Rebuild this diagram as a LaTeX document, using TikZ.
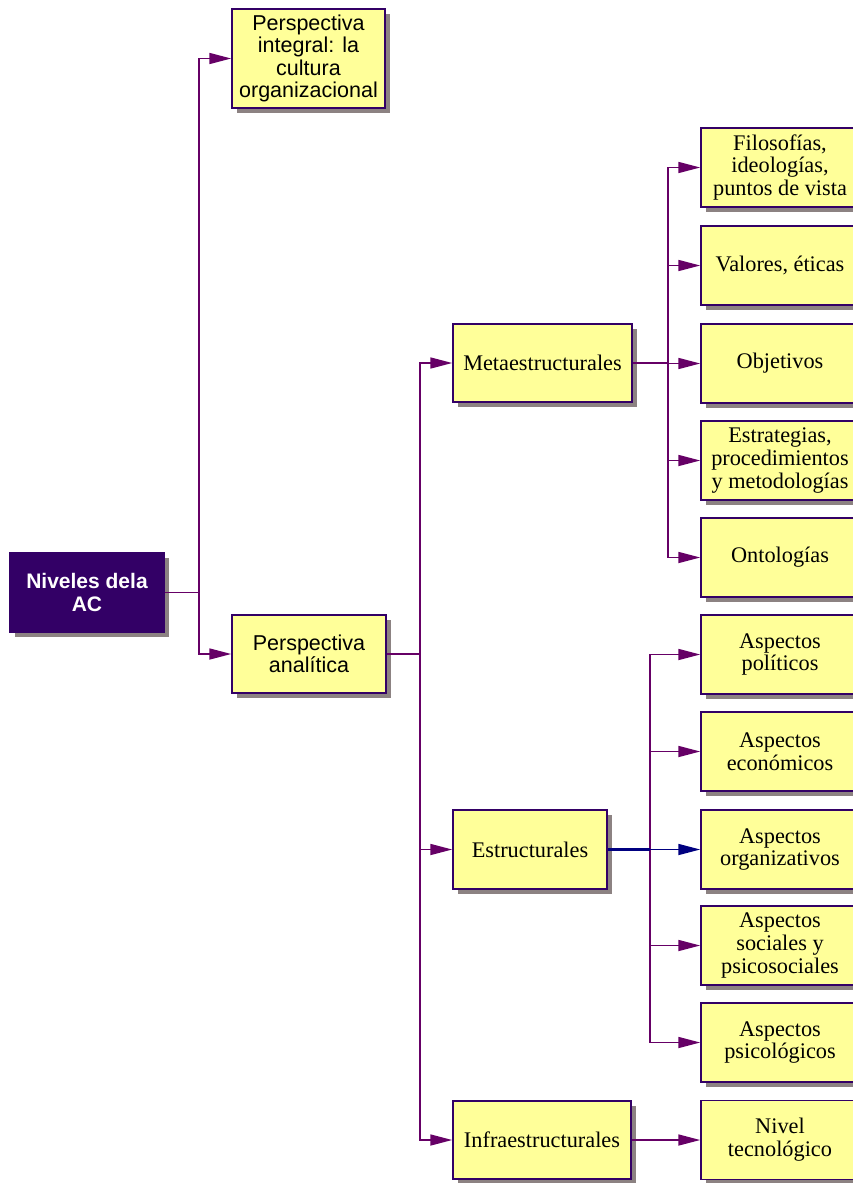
\documentclass[tikz,border=0pt]{standalone}
\usepackage{fontspec}
\setmainfont{Liberation Serif}
\setsansfont{Liberation Sans}
\usetikzlibrary{arrows.meta,shadows}
\definecolor{amarillo}{HTML}{FFFF99}
\definecolor{borde}{HTML}{330066}
\definecolor{linea}{HTML}{660066}
\definecolor{sombra}{HTML}{8C8282}
\definecolor{azul}{HTML}{000080}
\begin{document}
\begin{tikzpicture}[x=1pt,y=-1pt,
 caja/.style={draw=borde,line width=1.5pt,fill=amarillo,inner sep=0pt,align=center,
  font=\fontsize{22.3}{22.7}\selectfont,
  drop shadow={shadow xshift=5pt,shadow yshift=-5pt,fill=sombra,opacity=1}},
 cajas/.style={caja,font=\sffamily\fontsize{21.5}{22.5}\selectfont},
 raiz/.style={cajas,fill=borde,text=white,font=\sffamily\bfseries\fontsize{21}{22.5}\selectfont},
 flecha/.style={-{Triangle[length=22pt,width=11pt]}},
 conexion/.style={draw=linea,line width=1.7pt}]
 \useasboundingbox (0,0) rectangle (853,1183);
 % <<< nivel 1
 \node[raiz,minimum width=154,minimum height=79] (raiz) at (87,592.5) {Niveles dela\\AC};
 % <<< nivel 2
 \node[cajas,minimum width=153,minimum height=99] (integral) at (308.5,58.5)
  {Perspectiva\\integral: la\\cultura\\organizacional};
 \node[cajas,minimum width=154,minimum height=78] (analitica) at (309,654) {Perspectiva\\analítica};
 % <<< nivel 3
 \node[caja,minimum width=179,minimum height=78] (meta) at (542.5,363) {Metaestructurales};
 \node[caja,minimum width=154,minimum height=79] (estr) at (530,849.5) {Estructurales};
 \node[caja,minimum width=178,minimum height=78] (infra) at (542,1140) {Infraestructurales};
 % <<< nivel 4
 \begin{scope}[every node/.style={caja,minimum width=158,minimum height=79}]
 \node (filo) at (780,167.5) {Filosofías,\\ideologías,\\puntos de vista};
 \node (valores) at (780,265.5) {Valores, éticas};
 \node (objet) at (780,363.5) {Objetivos};
 \node (estrat) at (780,460.5) {Estrategias,\\procedimientos\\y metodologías};
 \node (onto) at (780,557.5) {Ontologías};
 \node (poli) at (780,654.5) {Aspectos\\políticos};
 \node (econ) at (780,751.5) {Aspectos\\económicos};
 \node (organ) at (780,849.5) {Aspectos\\organizativos};
 \node (social) at (780,945.5) {Aspectos\\sociales y\\psicosociales};
 \node (psico) at (780,1042.5) {Aspectos\\psicológicos};
 \node (tecno) at (780,1140) {Nivel\\tecnológico};
 \end{scope}
 \begin{scope}[conexion]
 \draw (raiz.east)--++(34,0) coordinate (b1);
 \draw (analitica.east)--++(33,0) coordinate (b2);
 \draw (meta.east)--++(35,0) coordinate (b3);
 \end{scope}
 \begin{scope}[conexion,flecha]
 \draw (b1) |- (integral.west);
 \draw (b1) |- (analitica.west);
 \draw (b2) |- (meta.west);
 \draw (b2) |- (estr.west);
 \draw (b2) |- (infra.west);
 \draw (b3) |- (filo.west);
 \draw (b3) |- (valores.west);
 \draw (b3) |- (objet.west);
 \draw (b3) |- (estrat.west);
 \draw (b3) |- (onto.west);
 \draw (estr.east)++(42,0) coordinate (b4) |- (poli.west);
 \draw (b4) |- (econ.west);
 \draw (b4) |- (social.west);
 \draw (b4) |- (psico.west);
 \draw (infra.east)--(tecno.west);
 \end{scope}
 \draw[draw=azul,line width=2.8pt] (estr.east)--(b4);
 \draw[flecha,draw=azul,fill=azul,line width=1.7pt] (b4)--(organ.west);
\end{tikzpicture}
\end{document}
